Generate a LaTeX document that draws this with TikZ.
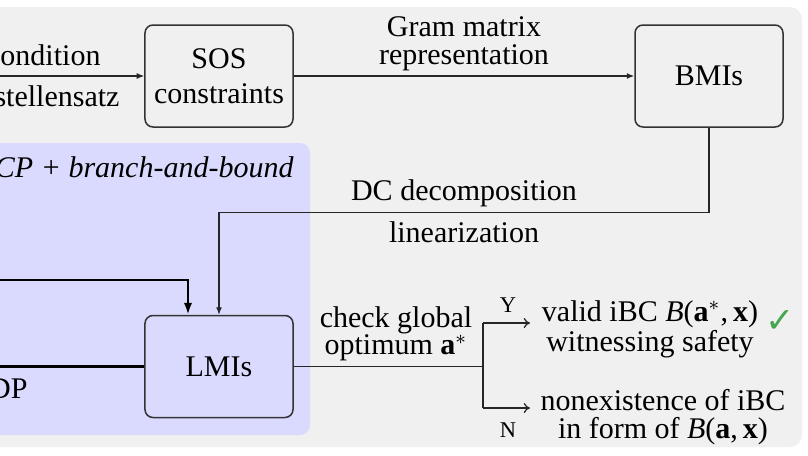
\documentclass[tikz,border=0pt]{standalone}
\usepackage{fontspec}
\setmainfont{Liberation Serif}
\newfontfamily\symfont{DejaVu Sans}
\usetikzlibrary{arrows.meta}
\definecolor{panelgray}{RGB}{240,240,240}
\definecolor{panelblue}{RGB}{218,218,255}
\definecolor{checkgreen}{RGB}{70,165,80}
\begin{document}
\begin{tikzpicture}[x=0.4pt,y=-0.4pt,
  box/.style={draw=black!80, line width=0.6pt, rounded corners=3.2pt,
    minimum width=59.2pt, minimum height=40.8pt, align=center, inner sep=0pt,
    font=\fontsize{12}{14}\selectfont},
  lbl/.style={align=center, inner sep=0pt, font=\fontsize{12}{11}\selectfont},
  small/.style={inner sep=0pt, font=\fontsize{9}{10}\selectfont},
  conn/.style={line width=0.5pt, draw=black!85},
  arr/.style={conn, -{Latex[length=3pt,width=2.4pt]}},
  thickarr/.style={line width=1pt, -{Latex[length=4.8pt,width=3.4pt]}},
  openarr/.style={conn, -{Computer Modern Rightarrow[length=2.5pt,width=4pt]}}
]
\useasboundingbox (0,0) rectangle (808,455);
\clip (0,0) rectangle (808,455);
% panels
\fill[panelgray, rounded corners=4.8pt] (-30,7) rectangle (802,447);
\fill[panelblue, rounded corners=4pt] (-30,143) rectangle (310,435);
% boxes
\node[box] (sos) at (219,76) {SOS\\constraints};
\node[box] (bmi) at (709,76) {BMIs};
\node[box] (lmi) at (219,366.5) {LMIs};
% incoming to SOS
\coordinate (inL) at (-5,76);
\draw[arr] (inL) -- (sos.west);
\node[lbl, anchor=base east] (cond) at (101,65) {ondition};
\node[lbl, anchor=base east] (pstz) at (120,106) {stellensatz};
% SOS -> BMIs
\draw[arr] (sos) -- (bmi);
\node[lbl] (gram) at (464,44) {Gram matrix\\representation};
% BMIs -> LMIs
\draw[arr] (bmi.south) -- ++(0,85) -| (lmi.north);
\node[lbl, anchor=base] (dc) at (464,200) {DC decomposition};
\node[lbl, anchor=base] (lin) at (464,242) {linearization};
% blue panel content
\node[lbl, anchor=base east, font={\fontsize{12}{11}\selectfont\itshape}] (bb) at (294,177) {CP + branch-and-bound};
\coordinate (thickin) at (-5,280);
\draw[thickarr] (thickin) -| ([xshift=-12.4pt]lmi.north);
\coordinate (sdpin) at (-5,366.5);
\draw[line width=1pt] (sdpin) -- (lmi.west);
\node[lbl, anchor=base east] (dp) at (28,398) {DP};
% branch
\coordinate (br) at (483,366.5);
\coordinate (brY) at (483,323);
\coordinate (brN) at (483,408);
\coordinate (yend) at (530,323);
\coordinate (nend) at (530,408);
\draw[conn] (lmi.east) -- (br);
\draw[conn] (brY) -- (brN);
\draw[openarr] (brY) -- (yend);
\draw[openarr] (brN) -- (nend);
\node[lbl] (check) at (396,334) {check global\\optimum \textbf{a}$^*$};
\node[small] (ylab) at (508,305) {Y};
\node[small] (nlab) at (508,430) {N};
\node[lbl] (valid) at (650,329.5) {valid iBC \textit{B}(\textbf{a}$^*$,\,\textbf{x})\\witnessing safety};
\node[lbl] (nonex) at (663,417) {nonexistence of iBC\\in form of \textit{B}(\textbf{a},\,\textbf{x})};
\node[inner sep=0pt, text=checkgreen, font=\symfont\fontsize{14}{15}\selectfont] (tick) at (780,321) {✓};
\end{tikzpicture}
\end{document}
